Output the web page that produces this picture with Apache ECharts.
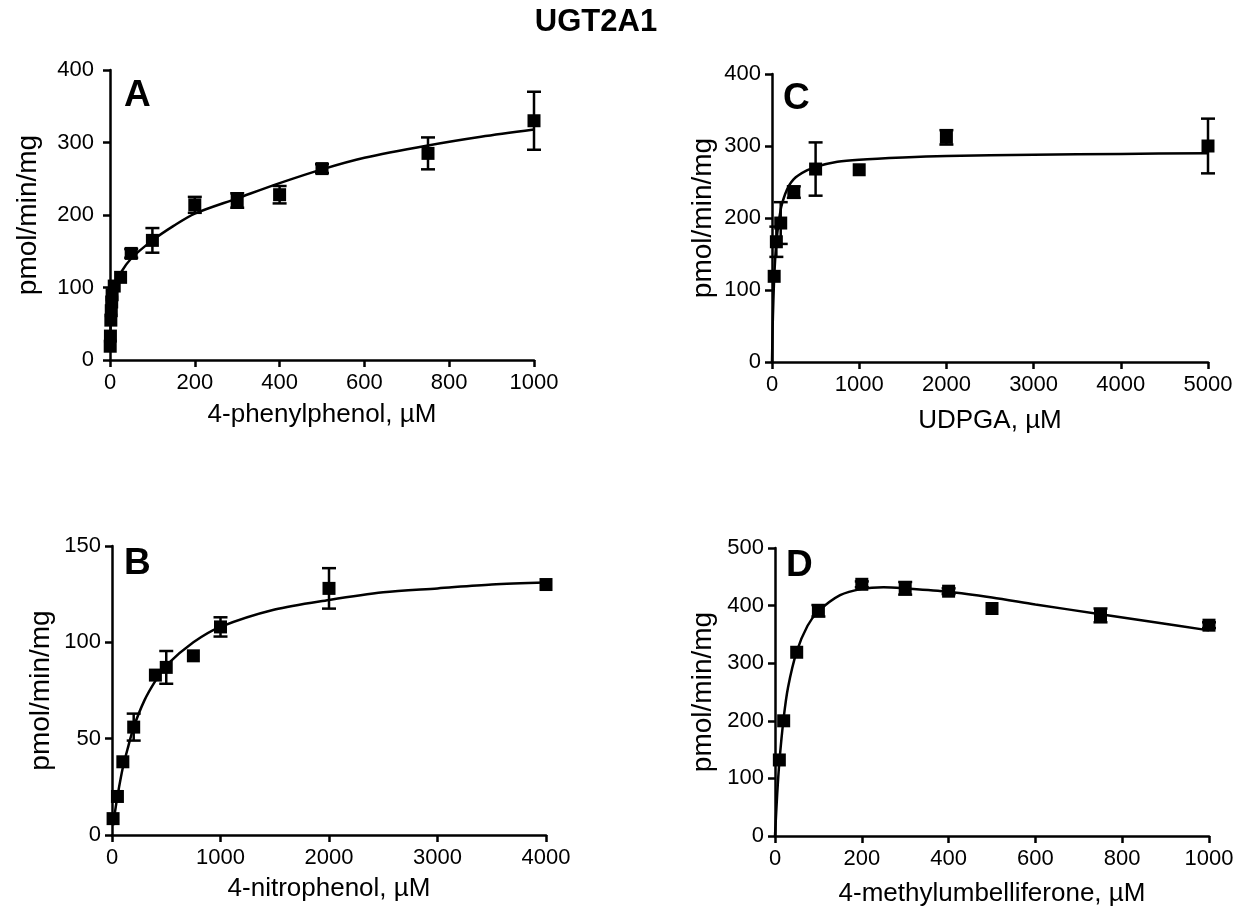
<!DOCTYPE html>
<html><head><meta charset="utf-8">
<script src="https://cdn.jsdelivr.net/npm/echarts@6/dist/echarts.min.js"></script>
<style>html,body{margin:0;padding:0;background:#fff}#c{width:1251px;height:914px}</style>
</head><body><div id="c"></div>
<script>
// ---- Panel A: 4-phenylphenol ----
const aX   = [0.5, 1, 2, 3, 4, 5, 10, 25, 50, 100, 200, 300, 400, 500, 750, 1000];
const aY   = [19, 33, 55, 68, 80, 90, 102, 114, 147, 165, 214, 220, 228, 264, 285, 330];
const aErr = [0, 0, 0, 0, 0, 0, 0, 0, 6, 17, 11, 10, 12, 6, 22, 40];
const aCurveX = [0.5, 1, 2, 3, 5, 10, 25, 50, 100, 150, 200, 300, 400, 500, 600, 750, 875, 1000];
const aCurveY = [22, 35, 55, 68, 85, 100, 120, 140, 165, 185, 202, 223, 244, 263, 279, 296, 308, 318];
// ---- Panel B: 4-nitrophenol ----
const bX   = [10, 50, 100, 200, 400, 500, 750, 1000, 2000, 4000];
const bY   = [8.5, 20, 38, 56, 83, 87, 93, 108, 128, 130];
const bErr = [0, 0, 0, 7, 0, 8.5, 0, 5, 10.5, 0];
const bCurveX = [10, 25, 50, 100, 150, 200, 300, 400, 500, 750, 1000, 1500, 2000, 2500, 3000, 3500, 4000];
const bCurveY = [5, 11, 20, 35, 46, 56, 70, 80, 88, 100, 108, 117, 122, 126, 128, 130, 131];
// ---- Panel C: UDPGA ----
const cX   = [25, 50, 100, 250, 500, 1000, 2000, 5000];
const cY   = [119, 167, 193, 236, 268, 267, 312, 300];
const cErr = [0, 21, 29, 8, 37, 0, 10, 38];
const cCurveX = [0, 5, 10, 25, 50, 100, 150, 200, 250, 300, 400, 500, 750, 1000, 1500, 2000, 3000, 4000, 5000];
const cCurveY = [0, 34, 61, 116, 166, 212, 233, 246, 254, 259, 266, 271, 278, 281, 284, 286, 288, 289, 290];
// ---- Panel D: 4-methylumbelliferone ----
const dX   = [10, 20, 50, 100, 200, 300, 400, 500, 750, 1000];
const dY   = [132, 200, 319, 391, 437, 430, 425, 395, 383, 366];
const dErr = [0, 0, 0, 10, 5, 11, 5, 0, 12, 5];
const dCurveX = [0, 5, 10, 20, 30, 50, 75, 100, 150, 200, 250, 300, 400, 500, 600, 750, 875, 1000];
const dCurveY = [0, 72, 128, 205, 258, 320, 365, 390, 418, 429, 432, 430, 424, 414, 402, 385, 371, 357];

const mainTitle = 'UGT2A1';
const panelLetters = ['A', 'B', 'C', 'D'];
const xNames = ['4-phenylphenol, µM', '4-nitrophenol, µM', 'UDPGA, µM', '4-methylumbelliferone, µM'];
const yName = 'pmol/min/mg';
const xMax = [1000, 4000, 5000, 1000], xInt = [200, 1000, 1000, 200];
const yMax = [400, 150, 400, 500], yInt = [100, 50, 100, 100];

const FONT = "'Liberation Sans', Arial, sans-serif";
const grids = [
  {left: 110, top: 70, width: 424, height: 290},
  {left: 112, top: 546, width: 434, height: 289},
  {left: 772, top: 74, width: 436, height: 288},
  {left: 775, top: 548, width: 434, height: 288}
];
const yGap = [68, 57, 55, 58];
const xGap = [42, 41, 46, 45];
const yLabMargin = [16, 11, 11, 11];
const letterPos = [[124, 77], [124, 545], [783, 80], [786, 547]];

const panels = [
  [aX, aY, aErr, aCurveX, aCurveY],
  [bX, bY, bErr, bCurveX, bCurveY],
  [cX, cY, cErr, cCurveX, cCurveY],
  [dX, dY, dErr, dCurveX, dCurveY]
];

const axLine = {show: true, onZero: false, lineStyle: {color: '#000', width: 2.5}};
const axTick = {show: true, inside: false, length: 7, lineStyle: {color: '#000', width: 2.5}};
const plain = v => String(v);

const xAxis = [], yAxis = [], series = [];
panels.forEach((p, i) => {
  xAxis.push({type: 'value', gridIndex: i, min: 0, max: xMax[i], interval: xInt[i],
    axisLine: axLine, axisTick: axTick, splitLine: {show: false},
    axisLabel: {color: '#000', fontSize: 22, fontFamily: FONT, margin: 12, formatter: plain},
    name: xNames[i], nameLocation: 'middle', nameGap: xGap[i],
    nameTextStyle: {color: '#000', fontSize: 26, fontFamily: FONT}});
  yAxis.push({type: 'value', gridIndex: i, min: 0, max: yMax[i], interval: yInt[i],
    axisLine: axLine, axisTick: axTick, splitLine: {show: false},
    axisLabel: {color: '#000', fontSize: 22, fontFamily: FONT, margin: yLabMargin[i], formatter: plain},
    name: yName, nameLocation: 'middle', nameGap: yGap[i],
    nameTextStyle: {color: '#000', fontSize: 28, fontFamily: FONT}});
  const [xs, ys, es, cx, cy] = p;
  series.push({type: 'line', xAxisIndex: i, yAxisIndex: i, data: cx.map((x, k) => [x, cy[k]]),
    smooth: 0.3, showSymbol: false, symbol: 'none', silent: true,
    lineStyle: {color: '#000', width: 2.5}, z: 2, clip: true});
  series.push({type: 'custom', xAxisIndex: i, yAxisIndex: i, data: xs.map((x, k) => [x, ys[k], es[k]]),
    z: 3, silent: true,
    renderItem: function (params, api) {
      const x = api.value(0), y = api.value(1), e = api.value(2);
      if (!e) return null;
      const t = api.coord([x, y + e]), b = api.coord([x, y - e]);
      const w = 7, st = {stroke: '#000', lineWidth: 2.5};
      return {type: 'group', children: [
        {type: 'line', shape: {x1: t[0], y1: t[1], x2: b[0], y2: b[1]}, style: st},
        {type: 'line', shape: {x1: t[0] - w, y1: t[1], x2: t[0] + w, y2: t[1]}, style: st},
        {type: 'line', shape: {x1: b[0] - w, y1: b[1], x2: b[0] + w, y2: b[1]}, style: st}
      ]};
    }});
  series.push({type: 'scatter', xAxisIndex: i, yAxisIndex: i, data: xs.map((x, k) => [x, ys[k]]),
    symbol: 'rect', symbolSize: 13, itemStyle: {color: '#000', opacity: 1}, z: 4, silent: true});
});

const graphic = [{type: 'text', x: 596, y: 7, style: {text: mainTitle, font: 'bold 31px ' + FONT, fill: '#000', textAlign: 'center', textVerticalAlign: 'top'}}];
panelLetters.forEach((L, i) => graphic.push({type: 'text', x: letterPos[i][0], y: letterPos[i][1],
  style: {text: L, font: 'bold 37px ' + FONT, fill: '#000', textAlign: 'left', textVerticalAlign: 'top'}}));

const chart = echarts.init(document.getElementById('c'), null, {renderer: 'canvas'});
chart.setOption({animation: false, backgroundColor: '#fff', grid: grids, xAxis, yAxis, series, graphic});
</script></body></html>
